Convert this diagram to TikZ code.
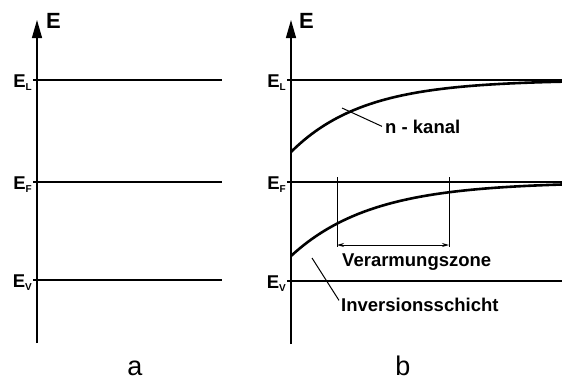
\documentclass[tikz,border=0pt]{standalone}
\usepackage{fontspec}
\setmainfont{Liberation Sans}
\usetikzlibrary{arrows.meta,positioning}
\newcommand\esub[1]{\raisebox{-3.5pt}{\fontsize{10}{10}\selectfont #1}}

\begin{document}
\begin{tikzpicture}[
    x=1pt, y=-1pt,
    axis/.style={line width=1.3pt, -{Triangle[length=18pt,width=10pt]}},
    level/.style={line width=1.3pt},
    band/.style={line width=2.6pt},
    leader/.style={line width=1pt},
    span/.style={line width=1pt, {Stealth[length=7pt,width=4pt]}-{Stealth[length=7pt,width=4pt]}},
    lvlname/.style={font=\fontsize{18.5}{20}\selectfont\bfseries, anchor=base east, inner sep=0pt},
    axname/.style={font=\fontsize{22}{24}\selectfont\bfseries, anchor=base west, inner sep=0pt},
    note/.style={font=\fontsize{18.5}{20}\selectfont\bfseries, anchor=base west, inner sep=0pt},
    panel/.style={font=\fontsize{27}{29}\selectfont, anchor=base, inner sep=0pt}
  ]
    \useasboundingbox (0,0) rectangle (562,380);

    % panel a
    \coordinate (aBot) at (37,343);
    \coordinate (aTop) at (37,20);
    \draw[axis] (aBot) -- (aTop);
    \node[axname] (aE) at (46,28) {E};
    \node[lvlname] (aEL) at (32,87) {E\esub{L}};
    \node[lvlname] (aEF) at (32,189) {E\esub{F}};
    \node[lvlname] (aEV) at (32,287) {E\esub{V}};
    \draw[level] (33,80) -- (222,80);
    \draw[level] (33,182) -- (222,182);
    \draw[level] (33,280) -- (222,280);
    \node[panel] (pa) at (135,375) {a};

    % panel b
    \coordinate (bBot) at (291,344);
    \coordinate (bTop) at (291,20);
    \draw[axis] (bBot) -- (bTop);
    \node[axname] (bE) at (299,28) {E};
    \node[lvlname] (bEL) at (286,87) {E\esub{L}};
    \node[lvlname] (bEF) at (286,189) {E\esub{F}};
    \node[lvlname] (bEV) at (286,288) {E\esub{V}};
    \draw[level] (287,80) -- (562,80);
    \draw[level] (287,182) -- (562,182);
    \draw[level] (287,281) -- (562,281);
    \draw[band] plot[domain=291:562, samples=80] (\x, {80+72*exp(-(\x-291)/72)});
    \draw[band] plot[domain=291:562, samples=80] (\x, {182+74*exp(-(\x-291)/80)});

    \coordinate (zL) at (337,177);
    \coordinate (zR) at (449,177);
    \coordinate (zLb) at (337,247);
    \coordinate (zRb) at (449,247);
    \draw[leader] (zL) -- (zLb);
    \draw[leader] (zR) -- (zRb);
    \draw[span] (337,245) -- (449,245);
    \node[note] (zone) at (342,266) {Verarmungszone};

    \node[note] (kanal) at (385,133) {n - kanal};
    \coordinate (kanalPt) at (342,108);
    \draw[leader] (kanalPt) -- ([xshift=-3pt]kanal.west);

    \node[note] (inv) at (341,311) {Inversionsschicht};
    \coordinate (invPt) at (312,258);
    \draw[leader] (invPt) -- ([xshift=-2pt,yshift=4pt]inv.west);
    \node[panel] (pb) at (403,375) {b};
  \end{tikzpicture}
\end{document}
